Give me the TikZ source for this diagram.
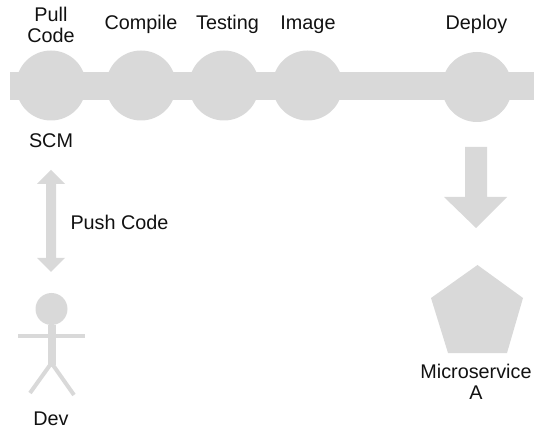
\documentclass[tikz,border=0pt]{standalone}
\usepackage{fontspec}
\setmainfont{Liberation Sans}
\definecolor{shapegray}{HTML}{D9D9D9}
\definecolor{txt}{HTML}{111111}
\tikzset{
  x=1pt,y=-1pt,
  stage/.style={circle,fill=shapegray,minimum size=70pt,inner sep=0pt},
  lbl/.style={text=txt,align=center,inner sep=0pt,font=\fontsize{19.8}{20.8}\selectfont},
  limb/.style={draw=shapegray,line width=4pt},
  solidgray/.style={fill=shapegray}
}
\begin{document}
\begin{tikzpicture}
\useasboundingbox (0,0) rectangle (535,435);
\fill[shapegray] (10,72) rectangle (534,100);
\node[stage] (s1) at (51,85.5) {};
\node[stage] (s2) at (141,85.5) {};
\node[stage] (s3) at (224,85.5) {};
\node[stage] (s4) at (307.5,85.5) {};
\node[stage] (s5) at (477,87) {};
\node[lbl] (t1) at (51,25) {Pull\\Code};
\node[lbl] (t2) at (141,24.5) {Compile};
\node[lbl] (t3) at (227.5,24.5) {Testing};
\node[lbl] (t4) at (308,24.5) {Image};
\node[lbl] (t5) at (476.5,24.5) {Deploy};
\node[lbl] (scm) at (51,141) {SCM};
\node[lbl] (push) at (119.5,222) {Push Code};
\node[lbl] (dev) at (51,418.5) {Dev};
\node[lbl] (ms) at (476,382) {Microservice\\A};
\fill[solidgray] (51,170) -- (65,184) -- (56,184) -- (56,258) -- (65,258) -- (51,272) -- (37,258) -- (46,258) -- (46,184) -- (37,184) -- cycle;
\fill[solidgray] (465,147) -- (487,147) -- (487,197) -- (507,197) -- (476,228) -- (444,197) -- (465,197) -- cycle;
\fill[solidgray] (477.5,265) -- (523,298) -- (507,353) -- (448,353) -- (431,298) -- cycle;
\fill[solidgray] (51.5,309) circle (16);
\draw[draw=shapegray,line width=8pt] (51.5,325) -- (51.5,365);
\draw[limb] (18,336) -- (85,336);
\draw[limb] (30,393) -- (51.5,363) -- (74,395);
\end{tikzpicture}
\end{document}
